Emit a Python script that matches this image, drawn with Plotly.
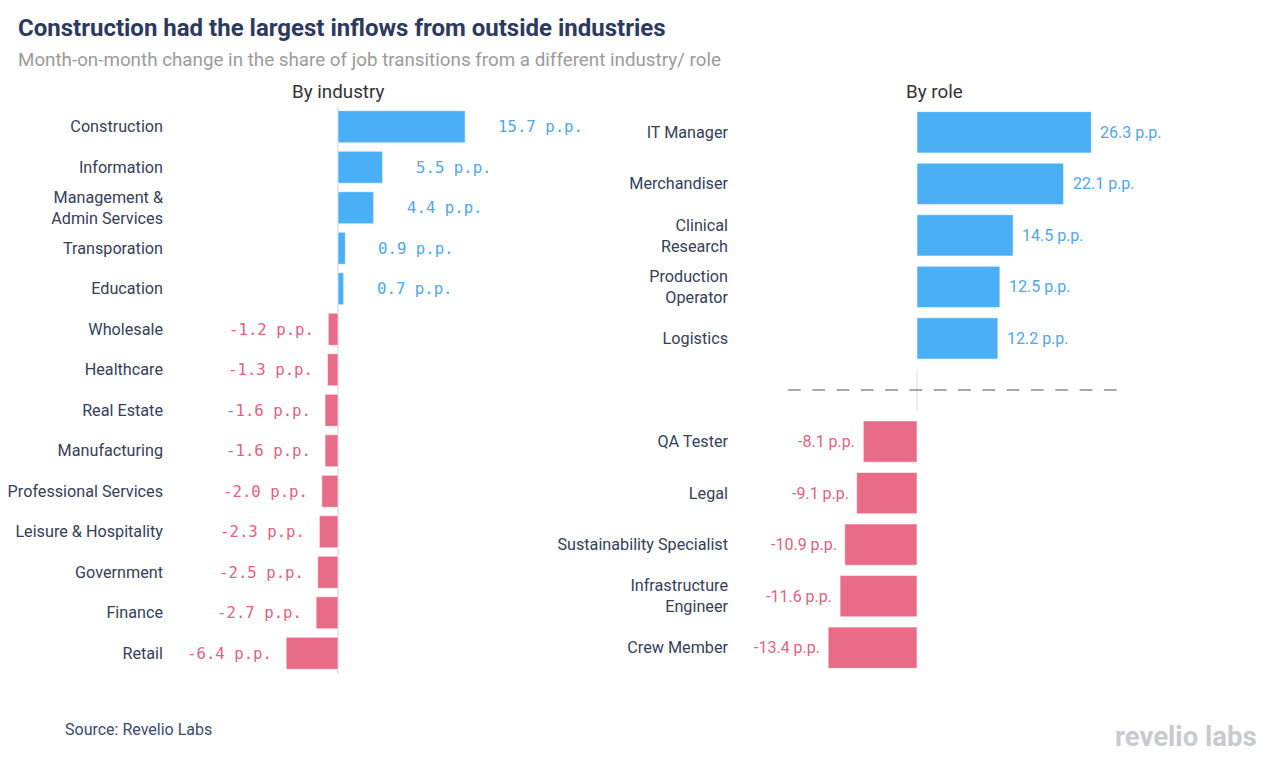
import plotly.graph_objects as go

W, H = 1267, 763
OFF = 8  # page body margin in the browser

industries = ["Construction", "Information", "Management &<br>Admin Services", "Transporation",
              "Education", "Wholesale", "Healthcare", "Real Estate", "Manufacturing",
              "Professional Services", "Leisure & Hospitality", "Government", "Finance", "Retail"]
industry_vals = [15.7, 5.5, 4.4, 0.9, 0.7, -1.2, -1.3, -1.6, -1.6, -2.0, -2.3, -2.5, -2.7, -6.4]

roles_pos = ["IT Manager", "Merchandiser", "Clinical<br>Research", "Production<br>Operator", "Logistics"]
roles_pos_vals = [26.3, 22.1, 14.5, 12.5, 12.2]
roles_neg = ["QA Tester", "Legal", "Sustainability Specialist", "Infrastructure<br>Engineer", "Crew Member"]
roles_neg_vals = [-8.1, -9.1, -10.9, -11.6, -13.4]

BLUE = "#4aaff5"
PINK = "#e86b87"
BLUE_T = "#4ea6ef"
PINK_T = "#e2617f"
LABEL = "#35405a"

def px_x(p):
    return (p - OFF) / W

def px_y(p):
    return 1 - (p - OFF) / H

roles = roles_pos + [" "] + roles_neg
role_vals = roles_pos_vals + [None] + roles_neg_vals

fig = go.Figure()

fig.add_trace(go.Bar(
    x=industry_vals, y=industries, orientation="h",
    marker=dict(color=[BLUE if v > 0 else PINK for v in industry_vals],
                line=dict(color="rgba(255,255,255,0.55)", width=1)),
    width=0.79, xaxis="x", yaxis="y", hoverinfo="skip", showlegend=False))

fig.add_trace(go.Bar(
    x=role_vals, y=roles, orientation="h",
    marker=dict(color=[BLUE if (v is not None and v > 0) else PINK for v in role_vals],
                line=dict(color="rgba(255,255,255,0.55)", width=1)),
    width=0.8, xaxis="x2", yaxis="y2", hoverinfo="skip", showlegend=False))

annotations = []
for name, v in zip(industries, industry_vals):
    annotations.append(dict(
        x=v, y=name, xref="x", yref="y", text=f"{v:.1f} p.p.", showarrow=False,
        xanchor="left" if v > 0 else "right", xshift=31 if v > 0 else -12,
        font=dict(family="DejaVu Sans Mono", size=15.7, color=BLUE_T if v > 0 else PINK_T)))
for name, v in zip(roles, role_vals):
    if v is None:
        continue
    annotations.append(dict(
        x=v, y=name, xref="x2", yref="y2", text=f"{v:.1f} p.p.", showarrow=False,
        xanchor="left" if v > 0 else "right", xshift=7 if v > 0 else -6,
        font=dict(family="Roboto", size=16, color=BLUE_T if v > 0 else PINK_T)))

annotations += [
    dict(text="<b>Construction had the largest inflows from outside industries</b>", x=px_x(16), y=px_y(28),
         xref="paper", yref="paper", xanchor="left", yanchor="middle", showarrow=False,
         font=dict(family="Roboto", size=24, color="#2b3a5e")),
    dict(text="Month-on-month change in the share of job transitions from a different industry/ role",
         x=px_x(16), y=px_y(60), xref="paper", yref="paper", xanchor="left", yanchor="middle",
         showarrow=False, font=dict(family="Roboto", size=18.8, color="#9b9b9b")),
    dict(text="By industry", x=px_x(338), y=px_y(92), xref="paper", yref="paper", xanchor="center",
         yanchor="middle", showarrow=False, font=dict(family="Roboto", size=18.8, color="#333333")),
    dict(text="By role", x=px_x(934), y=px_y(92), xref="paper", yref="paper", xanchor="center",
         yanchor="middle", showarrow=False, font=dict(family="Roboto", size=18.8, color="#333333")),
    dict(text="Source: Revelio Labs", x=px_x(63), y=px_y(729), xref="paper", yref="paper", xanchor="left",
         yanchor="middle", showarrow=False, font=dict(family="Roboto", size=16, color="#3c4a6e")),
    dict(text="<b>revelio labs</b>", x=px_x(1259), y=px_y(736), xref="paper", yref="paper", xanchor="right",
         yanchor="middle", showarrow=False, font=dict(family="Roboto", size=27.5, color="#c8cacf")),
]

L_ZERO, L_SCALE, L_DOM = 338, 8.1, (170, 600)
R_ZERO, R_SCALE, R_DOM = 917, 6.63, (740, 1230)
Y_DOM = [px_y(673.5), px_y(106.5)]

shapes = [
    dict(type="line", xref="paper", yref="y2", x0=px_x(788), x1=px_x(1117), y0=5, y1=5,
         line=dict(color="#8a8a8a", width=1.5, dash="12.7px,11.6px"), layer="above"),
    dict(type="line", xref="x2", yref="y2", x0=0, x1=0, y0=4.6, y1=5.4,
         line=dict(color="#e3e7f0", width=1.5), layer="below"),
]

fig.update_layout(
    width=W, height=H, margin=dict(l=0, r=0, t=0, b=0),
    paper_bgcolor="white", plot_bgcolor="white",
    font=dict(family="Roboto", size=16, color=LABEL),
    annotations=annotations, shapes=shapes,
    xaxis=dict(domain=[px_x(L_DOM[0]), px_x(L_DOM[1])],
               range=[(L_DOM[0] - L_ZERO) / L_SCALE, (L_DOM[1] - L_ZERO) / L_SCALE],
               showgrid=False, showticklabels=False, zeroline=True, zerolinecolor="#e3e7f0",
               zerolinewidth=2, fixedrange=True),
    yaxis=dict(domain=Y_DOM, type="category", categoryarray=industries, range=[len(industries) - 0.5, -0.5],
               showgrid=False, zeroline=False, ticks="", ticklabelstandoff=6,
               tickfont=dict(family="Roboto", size=16.2, color=LABEL), anchor="x"),
    xaxis2=dict(domain=[px_x(R_DOM[0]), px_x(R_DOM[1])],
                range=[(R_DOM[0] - R_ZERO) / R_SCALE, (R_DOM[1] - R_ZERO) / R_SCALE],
                showgrid=False, showticklabels=False, zeroline=False, anchor="y2", fixedrange=True),
    yaxis2=dict(domain=Y_DOM, type="category", categoryarray=roles, range=[len(roles) - 0.5, -0.5],
                showgrid=False, zeroline=False, ticks="", ticklabelstandoff=11,
                tickfont=dict(family="Roboto", size=16.2, color=LABEL), anchor="x2"),
)

fig.write_html("out.html")
